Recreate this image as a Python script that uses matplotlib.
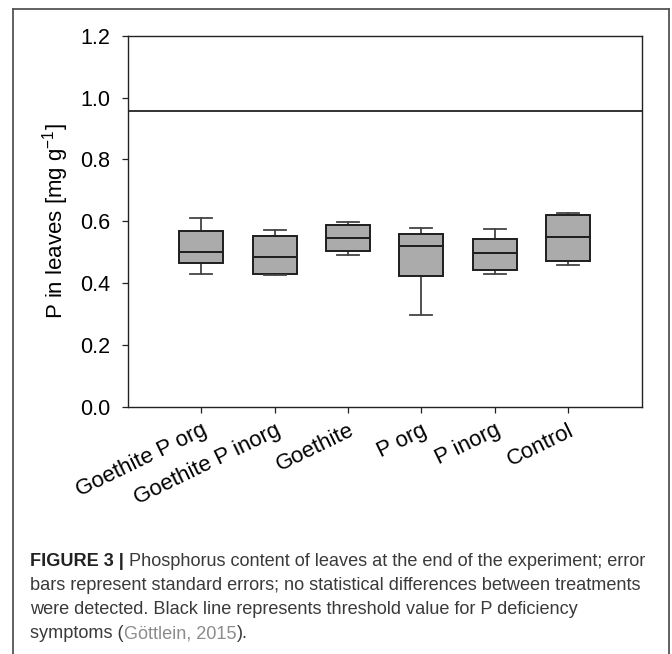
import matplotlib
matplotlib.use("Agg")
import matplotlib.pyplot as plt
from matplotlib import font_manager
from matplotlib.lines import Line2D

# Daten
behandlungen = ["Goethite P org", "Goethite P inorg", "Goethite", "P org", "P inorg", "Control"]
whisker_oben = [0.611, 0.570, 0.599, 0.579, 0.574, 0.628]
quartil_oben = [0.568, 0.551, 0.587, 0.559, 0.544, 0.621]
median = [0.500, 0.483, 0.546, 0.520, 0.496, 0.550]
quartil_unten = [0.464, 0.428, 0.504, 0.422, 0.441, 0.471]
whisker_unten = [0.430, 0.426, 0.492, 0.296, 0.430, 0.459]
schwellenwert = 0.955  # P-Mangel Grenzwert

# Schriften
plt.rcParams['font.family'] = ['Liberation Sans', 'DejaVu Sans']
plt.rcParams['mathtext.fontset'] = 'custom'
plt.rcParams['mathtext.rm'] = 'Liberation Sans'
plt.rcParams['mathtext.it'] = 'Liberation Sans:italic'

vorhanden = {f.name for f in font_manager.fontManager.ttflist}
caption_font = ['Liberation Sans Narrow', 'Liberation Sans'] if 'Liberation Sans Narrow' in vorhanden else ['Liberation Sans']

W, H = 672, 654
fig = plt.figure(figsize=(W / 100, H / 100), dpi=100)
ax = fig.add_axes([127.7 / W, 1 - 406.7 / H, (641.7 - 127.7) / W, (406.7 - 35.7) / H])

stats = []
for i in range(len(behandlungen)):
    stats.append(dict(med=median[i], q1=quartil_unten[i], q3=quartil_oben[i],
                      whislo=whisker_unten[i], whishi=whisker_oben[i], fliers=[]))

pos = list(range(1, len(behandlungen) + 1))
ax.bxp(stats, positions=pos, widths=0.6, capwidths=0.3, showfliers=False, patch_artist=True,
       boxprops=dict(facecolor='#ababab', edgecolor='#1e1e1e', linewidth=1.4),
       medianprops=dict(color='#1e1e1e', linewidth=1.4),
       whiskerprops=dict(color='#222222', linewidth=1.1),
       capprops=dict(color='#444444', linewidth=1.3))

ax.axhline(schwellenwert, color='#111111', linewidth=1.2)

ax.set_xlim(0, 7)
ax.set_ylim(0, 1.2)
ax.set_yticks([0.0, 0.2, 0.4, 0.6, 0.8, 1.0, 1.2])
ax.set_xticks(pos)
ax.set_xticklabels(behandlungen, rotation=26, ha='right', va='top', rotation_mode='anchor', fontsize=16)
ax.tick_params(axis='y', labelsize=15.5, length=4.5, width=0.9, pad=8.2, color='#222222')
ax.tick_params(axis='x', length=4.5, width=0.9, pad=5, color='#222222')
for s in ax.spines.values():
    s.set_color('#222222')
    s.set_linewidth(1.0)
ax.set_ylabel("P in leaves [mg g$^{-1}$]", fontsize=16, labelpad=6)

# Rahmen um die Abbildung
rahmen = dict(color='#555555', linewidth=1.3, transform=fig.transFigure)
x0, x1, y0 = 13.3 / W, 669 / W, 1 - 9.3 / H
fig.add_artist(Line2D([x0, x0], [0, y0], **rahmen))
fig.add_artist(Line2D([x1, x1], [0, y0], **rahmen))
fig.add_artist(Line2D([x0, x1], [y0, y0], **rahmen))

# Bildunterschrift, Stueck fuer Stueck gesetzt
renderer = fig.canvas.get_renderer()
cap_size = 13.1

def zeile(stuecke, y_px, x_px=30.5):
    x = x_px / W
    for txt, farbe, gewicht in stuecke:
        t = fig.text(x, 1 - y_px / H, txt, color=farbe, fontweight=gewicht, fontsize=cap_size,
                     family=caption_font, va='baseline', ha='left')
        bb = t.get_window_extent(renderer)
        x = bb.x1 / W

zeile([("FIGURE 3 | ", '#222222', 'bold'),
       ("Phosphorus content of leaves at the end of the experiment; error", '#3a3a3a', 'normal')], 566)
zeile([("bars represent standard errors; no statistical differences between treatments", '#3a3a3a', 'normal')], 590.5)
zeile([("were detected. Black line represents threshold value for P deficiency", '#3a3a3a', 'normal')], 614.5)
zeile([("symptoms (", '#3a3a3a', 'normal'), ("Göttlein, 2015", '#8c8c8c', 'normal'),
       (").", '#3a3a3a', 'normal')], 638.5)

fig.savefig("out.png", dpi=100)
